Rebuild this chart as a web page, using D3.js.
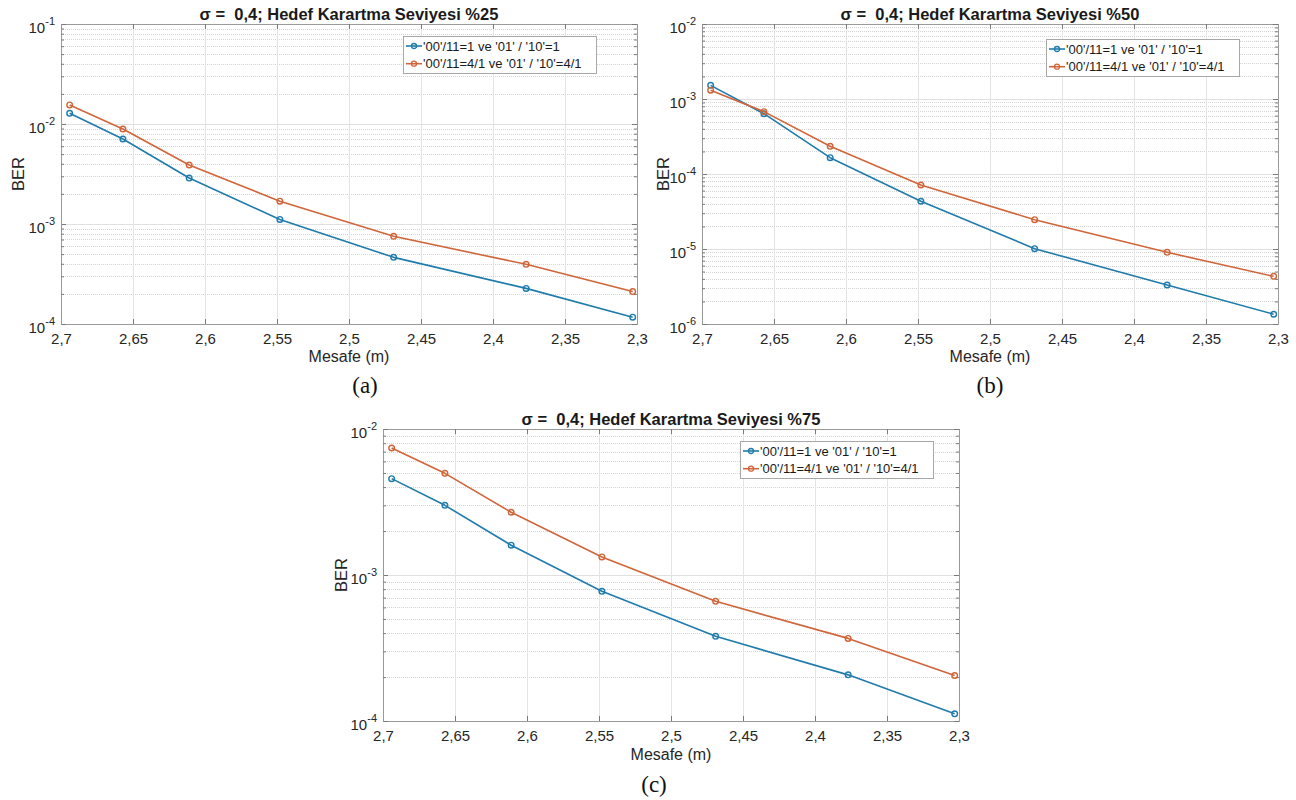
<!DOCTYPE html>
<html>
<head>
<meta charset="utf-8">
<script src="https://cdn.jsdelivr.net/npm/d3@7"></script>
<style>
  html, body { margin: 0; padding: 0; background: #fff; }
  svg { display: block; }
</style>
</head>
<body>
<svg id="chart" width="1296" height="800" font-family="'Liberation Sans', Arial, Helvetica, sans-serif"></svg>
<script>
// ---------------- DATA ----------------
const distances = [2.694, 2.657, 2.611, 2.548, 2.469, 2.377, 2.303];
const xTickValues = [2.7, 2.65, 2.6, 2.55, 2.5, 2.45, 2.4, 2.35, 2.3];
const seriesNames = ["'00'/11=1 ve '01' / '10'=1", "'00'/11=4/1 ve '01' / '10'=4/1"];

const titles = [
  "σ =  0,4; Hedef Karartma Seviyesi %25",
  "σ =  0,4; Hedef Karartma Seviyesi %50",
  "σ =  0,4; Hedef Karartma Seviyesi %75"
];
const captions = ["(a)", "(b)", "(c)"];
const xLabel = "Mesafe (m)";
const yLabel = "BER";

// BER values (panel a: %25)
const berA_equal = [1.28e-2, 7.08e-3, 2.88e-3, 1.11e-3, 4.64e-4, 2.27e-4, 1.17e-4];
const berA_41    = [1.55e-2, 8.9e-3, 3.89e-3, 1.69e-3, 7.53e-4, 3.95e-4, 2.11e-4];
// panel b: %50
const berB_equal = [1.52e-3, 6.37e-4, 1.65e-4, 4.33e-5, 1.01e-5, 3.31e-6, 1.35e-6];
const berB_41    = [1.31e-3, 6.78e-4, 2.34e-4, 7.13e-5, 2.46e-5, 9.03e-6, 4.32e-6];
// panel c: %75
const berC_equal = [4.57e-3, 3.0e-3, 1.60e-3, 7.73e-4, 3.80e-4, 2.07e-4, 1.12e-4];
const berC_41    = [7.41e-3, 4.97e-3, 2.69e-3, 1.33e-3, 6.6e-4, 3.68e-4, 2.05e-4];

// y-axis limits (exponents of 10)
const yExpA = [-4, -1];
const yExpB = [-6, -2];
const yExpC = [-4, -2];

// ---------------- LAYOUT / STYLE ----------------
const colors = ["#1f7bab", "#d0653a"];
const panels = [
  { left: 61,  top: 24,  w: 576, h: 300, exp: yExpA, s: [berA_equal, berA_41],
    legend: [403, 36], caption: [365, 393], yLabX: 24, xLabY: 362 },
  { left: 702, top: 24,  w: 576, h: 300, exp: yExpB, s: [berB_equal, berB_41],
    legend: [1046, 39], caption: [990, 393], yLabX: 669, xLabY: 362 },
  { left: 383, top: 429, w: 576, h: 292, exp: yExpC, s: [berC_equal, berC_41],
    legend: [740, 441], caption: [654, 792], yLabX: 347, xLabY: 760 }
];

const svg = d3.select("#chart");

panels.forEach((p, pi) => {
  const g = svg.append("g").attr("transform", `translate(${p.left},${p.top})`);
  const x = d3.scaleLinear().domain([2.7, 2.3]).range([0, p.w]);
  const y = d3.scaleLog().domain([Math.pow(10, p.exp[0]), Math.pow(10, p.exp[1])]).range([p.h, 0]);

  const majors = d3.range(p.exp[0], p.exp[1] + 1).map(e => Math.pow(10, e));
  const minors = [];
  for (let e = p.exp[0]; e < p.exp[1]; e++) {
    for (let k = 2; k <= 9; k++) minors.push(k * Math.pow(10, e));
  }

  // minor grid (dotted)
  g.append("g").selectAll("line").data(minors).join("line")
    .attr("x1", 0).attr("x2", p.w)
    .attr("y1", d => Math.round(y(d)) + 0.5).attr("y2", d => Math.round(y(d)) + 0.5)
    .attr("stroke", "#d4d4d4").attr("stroke-width", 1).attr("stroke-dasharray", "1,1");
  // major grid
  g.append("g").selectAll("line").data(majors).join("line")
    .attr("x1", 0).attr("x2", p.w)
    .attr("y1", d => Math.round(y(d)) + 0.5).attr("y2", d => Math.round(y(d)) + 0.5)
    .attr("stroke", "#e0e0e0").attr("stroke-width", 1);
  g.append("g").selectAll("line").data(xTickValues).join("line")
    .attr("y1", 0).attr("y2", p.h)
    .attr("x1", d => Math.round(x(d)) + 0.5).attr("x2", d => Math.round(x(d)) + 0.5)
    .attr("stroke", "#e4e4e4").attr("stroke-width", 1);

  // axes via d3 axis generators
  const fmt = d => String(d).replace(".", ",");
  const xAxis = g.append("g").attr("transform", `translate(0,${p.h})`)
    .call(d3.axisBottom(x).tickValues(xTickValues).tickFormat(fmt).tickSizeInner(-5).tickSizeOuter(0).tickPadding(9));
  const xAxisTop = g.append("g")
    .call(d3.axisTop(x).tickValues(xTickValues).tickFormat("").tickSizeInner(-5).tickSizeOuter(0));
  const yAxis = g.append("g")
    .call(d3.axisLeft(y).tickValues(majors).tickFormat("").tickSizeInner(-5).tickSizeOuter(0));
  const yAxisMinor = g.append("g")
    .call(d3.axisLeft(y).tickValues(minors).tickFormat("").tickSizeInner(-3).tickSizeOuter(0));
  const yAxisR = g.append("g").attr("transform", `translate(${p.w},0)`)
    .call(d3.axisRight(y).tickValues(majors).tickFormat("").tickSizeInner(-5).tickSizeOuter(0));
  const yAxisRMinor = g.append("g").attr("transform", `translate(${p.w},0)`)
    .call(d3.axisRight(y).tickValues(minors).tickFormat("").tickSizeInner(-3).tickSizeOuter(0));

  [xAxis, xAxisTop, yAxis, yAxisMinor, yAxisR, yAxisRMinor].forEach(a => {
    a.select(".domain").attr("stroke", "#9a9a9a");
    a.selectAll(".tick line").attr("stroke", "#7a7a7a");
  });
  xAxis.attr("font-family", null);
  xAxis.selectAll(".tick text").attr("font-size", 15).attr("fill", "#262626");

  // y tick labels 10^e
  const yl = g.append("g");
  majors.forEach(v => {
    const e = Math.round(Math.log10(v));
    const t = yl.append("text").attr("x", -6).attr("y", y(v) + 9)
      .attr("text-anchor", "end").attr("fill", "#262626").attr("font-size", 15);
    t.append("tspan").text("10");
    t.append("tspan").attr("dy", -8).attr("font-size", 11).text(String(e));
  });

  // lines and markers
  p.s.forEach((vals, si) => {
    const pts = distances.map((d, i) => [d, vals[i]]);
    g.append("path").datum(pts)
      .attr("fill", "none").attr("stroke", colors[si]).attr("stroke-width", 1.6)
      .attr("stroke-linejoin", "round")
      .attr("d", d3.line().x(d => x(d[0])).y(d => y(d[1])));
    g.append("g").selectAll("circle").data(pts).join("circle")
      .attr("cx", d => x(d[0])).attr("cy", d => y(d[1])).attr("r", 2.8)
      .attr("fill", "none").attr("stroke", colors[si]).attr("stroke-width", 1.4);
  });

  // title
  svg.append("text").attr("x", p.left + p.w / 2).attr("y", p.top - 4)
    .attr("text-anchor", "middle").attr("font-size", 16.5).attr("font-weight", "bold")
    .attr("fill", "#1a1a1a").style("white-space", "pre").text(titles[pi]);

  // axis labels
  svg.append("text").attr("x", p.left + p.w / 2).attr("y", p.xLabY)
    .attr("text-anchor", "middle").attr("font-size", 16).attr("fill", "#262626").text(xLabel);
  svg.append("text")
    .attr("transform", `translate(${p.yLabX},${p.top + p.h / 2}) rotate(-90)`)
    .attr("text-anchor", "middle").attr("font-size", 16.5).attr("fill", "#262626").text(yLabel);

  // legend
  const lg = svg.append("g").attr("transform", `translate(${p.legend[0]},${p.legend[1]})`);
  lg.append("rect").attr("x", 0.5).attr("y", 0.5).attr("width", 193).attr("height", 37)
    .attr("fill", "#fff").attr("stroke", "#a8a8a8").attr("stroke-width", 1);
  seriesNames.forEach((name, si) => {
    const cy = 10 + si * 17.7;
    lg.append("line").attr("x1", 3).attr("x2", 19).attr("y1", cy).attr("y2", cy)
      .attr("stroke", colors[si]).attr("stroke-width", 1.6);
    lg.append("circle").attr("cx", 11).attr("cy", cy).attr("r", 2.5)
      .attr("fill", "none").attr("stroke", colors[si]).attr("stroke-width", 1.3);
    lg.append("text").attr("x", 20).attr("y", cy + 4.6).attr("font-size", 13)
      .attr("fill", "#1a1a1a").text(name);
  });

  // caption
  svg.append("text").attr("x", p.caption[0]).attr("y", p.caption[1])
    .attr("text-anchor", "middle").attr("font-size", 23)
    .attr("font-family", "'Liberation Serif', 'DejaVu Serif', serif")
    .attr("fill", "#111").text(captions[pi]);
});
</script>
</body>
</html>
